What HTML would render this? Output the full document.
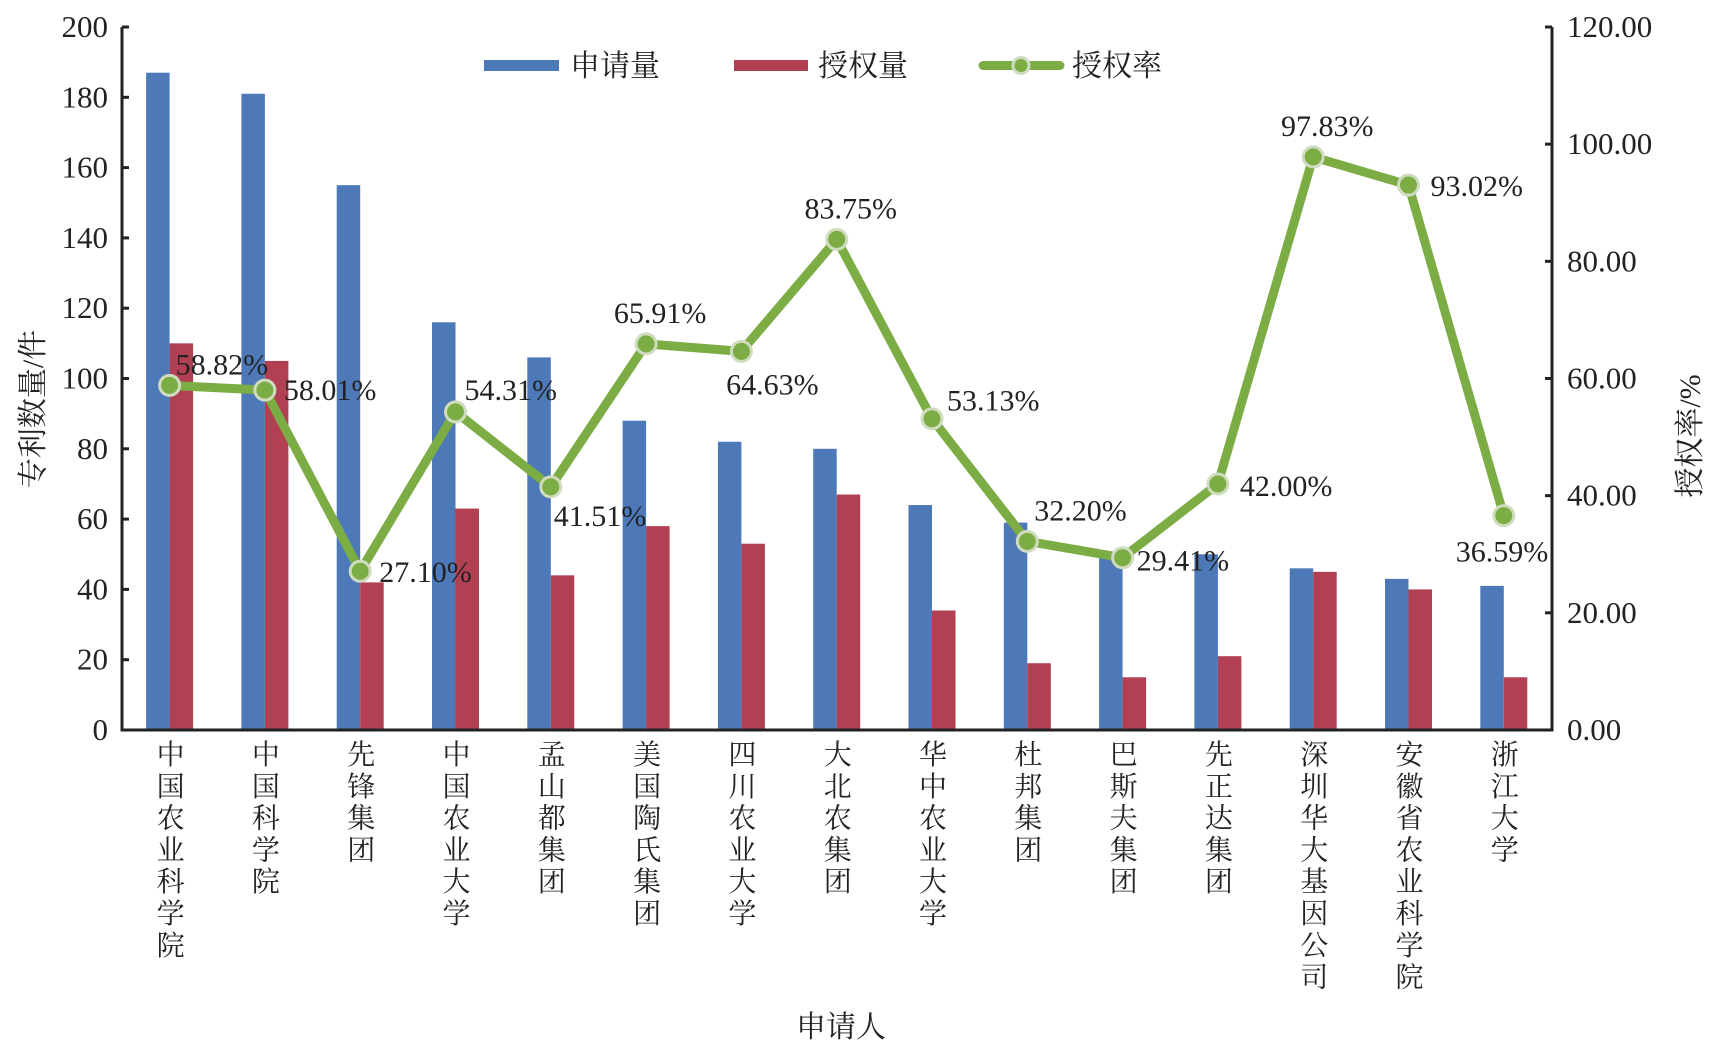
<!DOCTYPE html>
<html><head><meta charset="utf-8"><style>
html,body{margin:0;padding:0;background:#fff;}
svg{display:block;}
text{font-family:"Liberation Serif","Noto Serif CJK SC","Noto Sans CJK SC",serif;fill:#222;}
</style></head><body>
<svg width="1725" height="1044" viewBox="0 0 1725 1044" xmlns="http://www.w3.org/2000/svg">
<g id="bars"></g>
<g id="axes" stroke="#222" stroke-width="3" fill="none">
<path d="M122,27 V730 H1552 V27"/>
</g>
<g id="ticks" stroke="#222" stroke-width="3"></g>
<g id="ticklabels" font-size="31"></g>
<g id="line"></g>
<g id="labels" font-size="30"></g>
<g id="cats" font-size="28" text-anchor="middle"></g>
<!-- legend -->
<rect x="484" y="60" width="75" height="11" fill="#4e79b8"/>
<text x="570" y="76" font-size="30">申请量</text>
<rect x="734" y="60" width="74" height="11" fill="#b14152"/>
<text x="818" y="76" font-size="30">授权量</text>
<line x1="983" y1="65.5" x2="1060" y2="65.5" stroke="#7cac44" stroke-width="9" stroke-linecap="round"/>
<circle cx="1021" cy="65.5" r="8" fill="#7cac44" stroke="#cfdcc0" stroke-width="3"/>
<text x="1072" y="76" font-size="30">授权率</text>
<text transform="translate(43,409) rotate(-90)" font-size="30" text-anchor="middle">专利数量/件</text>
<text transform="translate(1700,436) rotate(-90)" font-size="30" text-anchor="middle">授权率/%</text>
<text x="841" y="1037" font-size="30" text-anchor="middle">申请人</text>
</svg>
<script>
var ns="http://www.w3.org/2000/svg";
function el(p,t,a,txt){var e=document.createElementNS(ns,t);for(var k in a)e.setAttribute(k,a[k]);if(txt!=null)e.textContent=txt;document.getElementById(p).appendChild(e);return e;}
var app=[187,181,155,116,106,88,82,80,64,59,50,50,46,43,41];
var gr=[110,105,42,63,44,58,53,67,34,19,15,21,45,40,15];
var rate=[58.82,58.01,27.10,54.31,41.51,65.91,64.63,83.75,53.13,32.20,29.41,42.00,97.83,93.02,36.59];
var cats=["中国农业科学院","中国科学院","先锋集团","中国农业大学","孟山都集团","美国陶氏集团","四川农业大学","大北农集团","华中农业大学","杜邦集团","巴斯夫集团","先正达集团","深圳华大基因公司","安徽省农业科学院","浙江大学"];
var y0=730,k=703/200,kr=703/120,w=95.3;
for(var i=0;i<15;i++){var c=169.6+w*i;
el("bars","rect",{x:c-23.5,y:y0-app[i]*k,width:23.5,height:app[i]*k,fill:"#4e79b8"});
el("bars","rect",{x:c,y:y0-gr[i]*k,width:23.5,height:gr[i]*k,fill:"#b14152"});
var s=cats[i];for(var j=0;j<s.length;j++)el("cats","text",{x:c+1,y:764+j*31.8},s[j]);}
for(var v=0;v<=200;v+=20){var y=y0-v*k;el("ticks","line",{x1:122,y1:y,x2:129,y2:y});
el("ticklabels","text",{x:108,y:y+10,"text-anchor":"end"},String(v));}
for(var v=0;v<=120;v+=20){var y=y0-v*kr;el("ticks","line",{x1:1545,y1:y,x2:1552,y2:y});
el("ticklabels","text",{x:1567,y:y+10},v.toFixed(2));}
var pts=rate.map(function(r,i){return [169.6+w*i,y0-r*kr];});
el("line","polyline",{points:pts.map(function(p){return p.join(",")}).join(" "),fill:"none",stroke:"#7cac44","stroke-width":9,"stroke-linejoin":"round"});
pts.forEach(function(p){el("line","circle",{cx:p[0],cy:p[1],r:10,fill:"#7cac44",stroke:"#cfdcc0","stroke-width":3});});
var off=[[6,-11,"start"],[19,10,"start"],[19,11,"start"],[9,-12,"start"],[3,39,"start"],[14,-21,"middle"],[31,43,"middle"],[14,-21,"middle"],[15,-8,"start"],[7,-21,"start"],[14,13,"start"],[22,12,"start"],[14,-21,"middle"],[22,11,"start"],[-48,46,"start"]];
rate.forEach(function(r,i){var o=off[i];el("labels","text",{x:pts[i][0]+o[0],y:pts[i][1]+o[1],"text-anchor":o[2]},r.toFixed(2)+"%");});
</script>
</body></html>
